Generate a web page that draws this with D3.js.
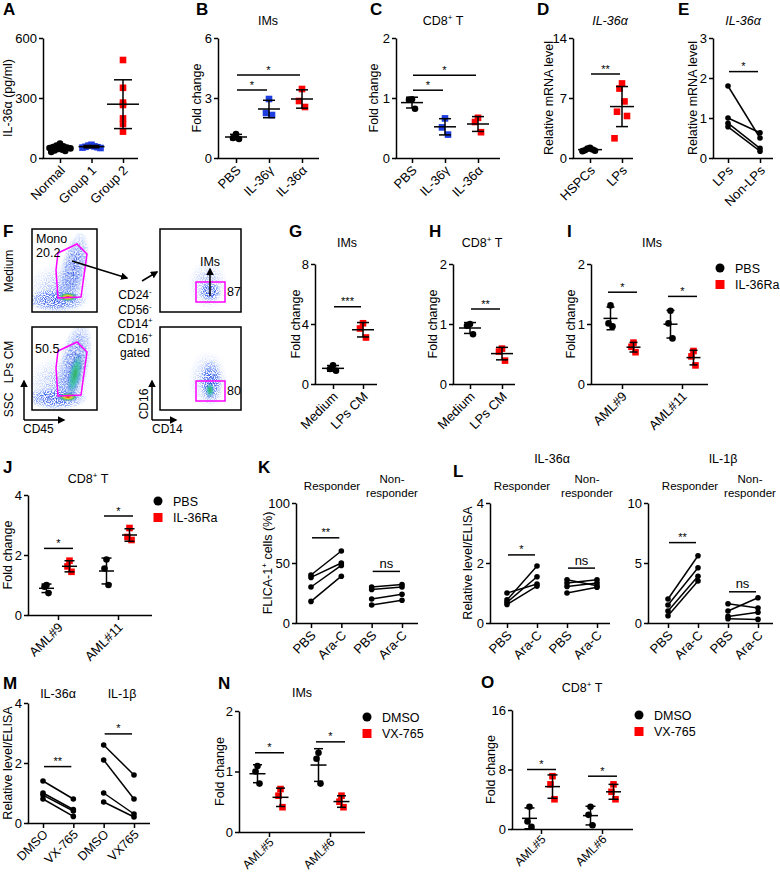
<!DOCTYPE html>
<html>
<head>
<meta charset="utf-8">
<title>IL-36 figure</title>
<script src="https://d3js.org/d3.v7.min.js"></script>
<style>
body { margin: 0; background: #fff; }
</style>
</head>
<body>
<div id="container"></div>
<script>

// ---------------- data ----------------
var catsA = ["Normal", "Group 1", "Group 2"];
var normalA = [72, 62, 58, 55, 52, 50, 48, 45, 42, 38, 35, 30];
var group1A = [66, 62, 58, 56, 54, 52, 50];
var group2A = [490, 351, 277, 265, 198, 170, 132];

var catsB = ["PBS", "IL-36γ", "IL-36α"];
var pbsB = [1.2, 1.0, 0.95];
var gammaB = [2.95, 2.25, 2.15];
var alphaB = [3.45, 2.85, 2.55];

var pbsC = [0.98, 0.97, 0.82];
var gammaC = [0.66, 0.51, 0.39];
var alphaC = [0.67, 0.6, 0.43];

var catsD = ["HSPCs", "LPs"];
var hspcD = [1.2, 1.1, 1.0, 0.9, 0.85, 0.8];
var lpsD = [8.7, 8.1, 6.6, 5.4, 4.9, 2.3];

var catsE = ["LPs", "Non-LPs"];
var pairsE = [[1.8, 0.5], [1.0, 0.63], [0.87, 0.24], [0.78, 0.17]];

var catsG = ["Medium", "LPs CM"];
var mediumG = [1.25, 1.0, 0.88];
var lpscmG = [4.05, 3.7, 3.1];
var mediumH = [1.0, 0.97, 0.83];
var lpscmH = [0.59, 0.54, 0.39];

var catsI = ["AML#9", "AML#11"];
var pbsI = [[1.31, 1.01, 0.96], [1.22, 1.01, 0.76]];
var raI = [[0.69, 0.62, 0.53], [0.55, 0.46, 0.31]];
var pbsJ = [[1.0, 0.94, 0.73], [1.85, 1.55, 1.0]];
var raJ = [[1.81, 1.62, 1.44], [2.9, 2.6, 2.5]];

var catsK = ["PBS", "Ara-C", "PBS", "Ara-C"];
var respK = [[40, 60], [38, 50], [30, 48], [18, 39]];
var nonK = [[30, 32], [28, 30], [20, 24], [15, 19]];
var respL1 = [[1.0, 1.3], [0.77, 1.9], [0.69, 1.54], [0.62, 1.23]];
var nonL1 = [[1.44, 1.24], [1.33, 1.44], [1.22, 1.33], [1.0, 1.19]];
var respL2 = [[2.0, 5.6], [1.5, 4.6], [1.0, 3.9], [0.6, 3.5]];
var nonL2 = [[1.6, 1.25], [1.0, 2.1], [0.55, 0.9], [0.35, 0.3]];

var catsM = ["DMSO", "VX-765", "DMSO", "VX765"];
var il36M = [[1.4, 0.8], [1.0, 0.45], [0.93, 0.4], [0.8, 0.22]];
var il1bM = [[2.6, 1.6], [2.1, 0.8], [1.0, 0.3], [0.7, 0.2]];

var catsN = ["AML#5", "AML#6"];
var dmsoN = [[1.09, 1.0, 0.8], [1.31, 1.21, 0.8]];
var vxN = [[0.71, 0.6, 0.41], [0.6, 0.5, 0.41]];
var dmsoO = [[3.0, 1.0, 0.3], [3.0, 1.9, 0.5]];
var vxO = [[7.1, 6.0, 4.0], [6.0, 5.0, 4.0]];

// flow gate percentages: Mono gate (Medium, LPs CM), IMs gate (Medium, LPs CM)
var monoPct = [20.2, 50.5];
var imsPct = [87, 80];

// ---------------- setup ----------------
var FONT = "'Liberation Sans', Arial, Helvetica, sans-serif";
var width = 780, height = 872;
var RED = "#ff0000", BLUE = "#1e3ee0";

var svg = d3.select("#container").append("svg")
  .attr("width", width).attr("height", height)
  .style("font-family", FONT);
var defs = svg.append("defs");

// text with ^sup^ markup
function label(x, y, str, size, opt) {
  opt = opt || {};
  var t = svg.append("text").attr("x", x).attr("y", y)
    .attr("font-size", size).attr("text-anchor", opt.anchor || "start").attr("fill", "#000");
  if (opt.bold) t.attr("font-weight", "bold");
  if (opt.italic) t.attr("font-style", "italic");
  if (opt.rotate) t.attr("transform", "rotate(" + opt.rotate + "," + x + "," + y + ")");
  var parts = str.split("^");
  parts.forEach(function(s, i) {
    if (!s) return;
    if (i % 2 == 1) {
      t.append("tspan").attr("font-size", size * 0.65).attr("dy", -size * 0.4).text(s);
    } else {
      var sp = t.append("tspan").text(s);
      if (i > 0) sp.attr("dy", size * 0.4);
    }
  });
  return t;
}

function panel(p) {
  var g = svg.append("g");
  var y = d3.scaleLinear().domain([0, p.max]).range([p.yBot, p.yTop]);
  var x = d3.scalePoint().domain(d3.range(p.cats.length)).range(p.xr);
  g.append("g").attr("transform", "translate(" + p.ax + ",0)")
    .call(d3.axisLeft(y).tickValues(p.ticks).tickSize(4).tickSizeOuter(0).tickPadding(2)
      .tickFormat(d3.format("d")));
  var xa = g.append("g").attr("transform", "translate(0," + p.yBot + ")")
    .call(d3.axisBottom(x).tickSize(5).tickSizeOuter(0).tickFormat(function(i) { return p.cats[i]; }));
  xa.select(".domain").attr("d", "M" + (p.ax - 0.75) + ",0.5H" + p.xEnd);
  g.selectAll(".domain,.tick line").attr("stroke", "#000").attr("stroke-width", 1.5);
  g.selectAll("g").attr("font-family", FONT).attr("font-size", 13);
  g.selectAll(".tick text").attr("fill", "#000");
  xa.selectAll(".tick text").attr("x", 0).attr("y", 0).attr("dy", "0.35em")
    .attr("text-anchor", "end").attr("font-size", p.xfs || 13)
    .attr("transform", "translate(2," + (p.xoff || 10) + ") rotate(-45)");
  if (p.ylab) label(p.ylx, (p.yTop + p.yBot) / 2, p.ylab, 12.5, {anchor: "middle", rotate: -90});
  return {g: g, x: x, y: y};
}

function marker(g, cx, cy, mk) {
  if (mk.shape == "circle") {
    g.append("circle").attr("cx", cx).attr("cy", cy).attr("r", 3.3).attr("fill", mk.color);
  } else {
    g.append("rect").attr("x", cx - 3.3).attr("y", cy - 3.3).attr("width", 6.6).attr("height", 6.6).attr("fill", mk.color);
  }
}

var jitter = [0, -1, 1, -2, 2, -3, 3, -0.5, 0.5, -1.5, 1.5, -2.5];

function dotGroup(pp, cx, vals, mk, mw, cw, spread) {
  var m = d3.mean(vals), s = d3.deviation(vals);
  var g = pp.g.append("g");
  vals.forEach(function(v, i) {
    marker(g, cx + jitter[i % jitter.length] * spread, pp.y(v), mk);
  });
  var st = function(l) { return l.attr("stroke", "#000").attr("stroke-width", 1.5); };
  st(g.append("line").attr("x1", cx - mw).attr("x2", cx + mw).attr("y1", pp.y(m)).attr("y2", pp.y(m)));
  st(g.append("line").attr("x1", cx).attr("x2", cx).attr("y1", pp.y(m - s)).attr("y2", pp.y(m + s)));
  [m - s, m + s].forEach(function(v) {
    st(g.append("line").attr("x1", cx - cw).attr("x2", cx + cw).attr("y1", pp.y(v)).attr("y2", pp.y(v)));
  });
}

function pairs(pp, ia, ib, arr) {
  var g = pp.g.append("g");
  arr.forEach(function(d) {
    g.append("line").attr("x1", pp.x(ia)).attr("x2", pp.x(ib))
      .attr("y1", pp.y(d[0])).attr("y2", pp.y(d[1]))
      .attr("stroke", "#000").attr("stroke-width", 1.5);
    g.append("circle").attr("cx", pp.x(ia)).attr("cy", pp.y(d[0])).attr("r", 2.8);
    g.append("circle").attr("cx", pp.x(ib)).attr("cy", pp.y(d[1])).attr("r", 2.8);
  });
}

function sig(pp, x1, x2, v, lab) {
  var yy = pp.y(v);
  pp.g.append("line").attr("x1", x1).attr("x2", x2).attr("y1", yy).attr("y2", yy)
    .attr("stroke", "#000").attr("stroke-width", 1.5);
  pp.g.append("text").attr("x", (x1 + x2) / 2).attr("y", lab == "ns" ? yy - 3.5 : yy - 1.5)
    .attr("text-anchor", "middle").attr("font-size", lab == "ns" ? 13 : 11).text(lab);
}

function sigPair(pp, i, j, v, lab) { sig(pp, pp.x(i) + 1, pp.x(j) - 2, v, lab); }

function legend(x, y, names) {
  var c = svg.append("g");
  c.append("circle").attr("cx", x).attr("cy", y).attr("r", 4.5).attr("fill", "#000");
  c.append("rect").attr("x", x - 4.5).attr("y", y + 12).attr("width", 9).attr("height", 9).attr("fill", RED);
  label(x + 15, y + 4.5, names[0], 12.5);
  label(x + 15, y + 21, names[1], 12.5);
}

function subHeads(cx1, cx2) {
  label(cx1, 490, "Responder", 11.5, {anchor: "middle"});
  label(cx2, 483, "Non-", 11.5, {anchor: "middle"});
  label(cx2, 496.5, "responder", 11.5, {anchor: "middle"});
}

var blackC = {shape: "circle", color: "#000"};
var redS = {shape: "square", color: RED};
var blueS = {shape: "square", color: BLUE};

// ---------------- panel letters ----------------
[["A", 3, 15], ["B", 196, 15], ["C", 370, 15], ["D", 537, 15], ["E", 678, 15],
 ["F", 3, 237], ["G", 289, 237], ["H", 429, 237], ["I", 567, 237],
 ["J", 3, 473], ["K", 258, 473], ["L", 453, 477],
 ["M", 3, 689], ["N", 218, 689], ["O", 481, 688]].forEach(function(d) {
  label(d[1], d[2], d[0], 17, {bold: true});
});

// ---------------- A ----------------
var pA = panel({cats: catsA, ax: 43, yTop: 38, yBot: 158, xr: [60, 123], xEnd: 138, max: 600,
  ticks: [0, 300, 600], ylab: "IL-36α (pg/ml)", ylx: 12});
dotGroup(pA, pA.x(0), normalA, blackC, 13, 8, 3.5);
dotGroup(pA, pA.x(1), group1A, blueS, 13, 8, 3);
dotGroup(pA, pA.x(2), group2A, redS, 16, 9, 0);

// ---------------- B ----------------
var pB = panel({cats: catsB, ax: 218, yTop: 38, yBot: 158, xr: [236, 302], xEnd: 319, max: 6,
  ticks: [0, 3, 6], ylab: "Fold change", ylx: 201});
label(268, 25, "IMs", 12.5, {anchor: "middle"});
dotGroup(pB, pB.x(0), pbsB, blackC, 11, 6, 3);
dotGroup(pB, pB.x(1), gammaB, blueS, 11, 6, 3);
dotGroup(pB, pB.x(2), alphaB, redS, 11, 6, 3);
sigPair(pB, 0, 1, 3.4, "*");
sigPair(pB, 0, 2, 4.15, "*");

// ---------------- C ----------------
var pC = panel({cats: catsB, ax: 396, yTop: 38, yBot: 158, xr: [412, 478], xEnd: 500, max: 2,
  ticks: [0, 1, 2], ylab: "Fold change", ylx: 378});
label(443, 25, "CD8^+^ T", 12.5, {anchor: "middle"});
dotGroup(pC, pC.x(0), pbsC, blackC, 11, 6, 3);
dotGroup(pC, pC.x(1), gammaC, blueS, 11, 6, 3);
dotGroup(pC, pC.x(2), alphaC, redS, 11, 6, 3);
sigPair(pC, 0, 1, 1.13, "*");
sigPair(pC, 0, 2, 1.38, "*");

// ---------------- D ----------------
var pD = panel({cats: catsD, ax: 573, yTop: 38, yBot: 158, xr: [590, 622], xEnd: 633, max: 14,
  ticks: [0, 7, 14], ylab: "Relative mRNA level", ylx: 553});
label(610, 25, "IL-36α", 12.5, {anchor: "middle", italic: true});
dotGroup(pD, pD.x(0), hspcD, blackC, 12, 6, 2.5);
dotGroup(pD, pD.x(1), lpsD, redS, 12, 6, 2.5);
sigPair(pD, 0, 1, 9.8, "**");

// ---------------- E ----------------
var pE = panel({cats: catsE, ax: 713, yTop: 38, yBot: 158, xr: [728, 760], xEnd: 773, max: 3,
  ticks: [0, 1, 2, 3], ylab: "Relative mRNA level", ylx: 697});
label(743, 25, "IL-36α", 12.5, {anchor: "middle", italic: true});
pairs(pE, 0, 1, pairsE);
sigPair(pE, 0, 1, 2.16, "*");

// ---------------- F: flow plots ----------------
function radGrad(id, stops) {
  var gr = defs.append("radialGradient").attr("id", id);
  stops.forEach(function(s) {
    gr.append("stop").attr("offset", s[0]).attr("stop-color", s[1]).attr("stop-opacity", s[2]);
  });
}
radGrad("haze", [[0, "#2448dc", 1], [0.55, "#3a66ee", 0.85], [1, "#6a96ff", 0.15]]);
radGrad("faint", [[0, "#4a74f0", 0.8], [1, "#8aaaff", 0]]);
radGrad("hot", [[0, "#e01818", 1], [0.35, "#f0c828", 0.95], [0.65, "#3cc060", 0.85], [1, "#3070e0", 0]]);
radGrad("green", [[0, "#2cb050", 0.95], [0.5, "#30c0a8", 0.75], [1, "#3060e0", 0]]);

var speck = defs.append("filter").attr("id", "speck").attr("x", 0).attr("y", 0).attr("width", 1).attr("height", 1);
speck.append("feTurbulence").attr("type", "fractalNoise").attr("baseFrequency", 0.9)
  .attr("numOctaves", 1).attr("seed", 7).attr("result", "noise");
speck.append("feColorMatrix").attr("in", "noise").attr("type", "matrix")
  .attr("values", "0 0 0 0 0  0 0 0 0 0  0 0 0 0 0  4 0 0 0 -1.6").attr("result", "mask");
speck.append("feComposite").attr("in", "SourceGraphic").attr("in2", "mask").attr("operator", "in");

defs.append("marker").attr("id", "arrow").attr("viewBox", "0 -5 10 10")
  .attr("refX", 8).attr("refY", 0).attr("markerWidth", 5).attr("markerHeight", 5)
  .attr("orient", "auto").append("path").attr("d", "M0,-5L10,0L0,5Z").attr("fill", "#000");

var flowBoxes = [[32, 229, 65, 83], [32, 327, 65, 83], [160, 229, 81, 83], [160, 327, 81, 83]];
// [box, cx, cy, rx, ry, rotation, fill, speckled]
var blobs = [
  [0, 60, 290, 34, 28, 0, "faint", 1],
  [0, 56, 300, 30, 11, 0, "haze", 1], [0, 74, 268, 13, 36, 12, "haze", 1], [0, 68, 297, 10, 4.5, 0, "hot", 0],
  [1, 60, 385, 34, 30, 0, "faint", 1],
  [1, 56, 398, 30, 11, 0, "haze", 1], [1, 75, 362, 15, 40, 12, "haze", 1],
  [1, 75, 374, 7, 24, 12, "green", 0], [1, 68, 397, 10, 4.5, 0, "hot", 0],
  [2, 208, 285, 20, 26, 0, "faint", 1], [2, 210, 292, 11, 10, 0, "haze", 1],
  [3, 208, 380, 20, 30, 0, "faint", 1], [3, 211, 382, 11, 22, 0, "haze", 1], [3, 210, 390, 5, 8, 0, "green", 0]
];
flowBoxes.forEach(function(b, i) {
  defs.append("clipPath").attr("id", "fclip" + i).append("rect")
    .attr("x", b[0]).attr("y", b[1]).attr("width", b[2]).attr("height", b[3]);
  var g = svg.append("g").attr("clip-path", "url(#fclip" + i + ")");
  blobs.filter(function(d) { return d[0] == i; }).forEach(function(d) {
    var e = g.append("ellipse").attr("cx", d[1]).attr("cy", d[2]).attr("rx", d[3]).attr("ry", d[4])
      .attr("transform", "rotate(" + d[5] + "," + d[1] + "," + d[2] + ")")
      .attr("fill", "url(#" + d[6] + ")");
    if (d[7]) e.attr("filter", "url(#speck)");
  });
  svg.append("rect").attr("x", b[0]).attr("y", b[1]).attr("width", b[2]).attr("height", b[3])
    .attr("fill", "none").attr("stroke", "#000").attr("stroke-width", 1.5);
});

var gateTop = [[58, 253], [77, 244], [87, 254], [81, 297], [58, 298], [56, 270]];
[0, 98].forEach(function(dy) {
  svg.append("polygon").attr("points", gateTop.map(function(p) { return p[0] + "," + (p[1] + dy); }).join(" "))
    .attr("fill", "none").attr("stroke", "#ff00ff").attr("stroke-width", 1.5);
});
[282, 381].forEach(function(yy) {
  svg.append("rect").attr("x", 196).attr("y", yy).attr("width", 29).attr("height", 20)
    .attr("fill", "none").attr("stroke", "#ff00ff").attr("stroke-width", 1.5);
});

label(36, 243, "Mono", 12.5);
label(36, 257, String(monoPct[0]), 12.5);
label(35, 353, String(monoPct[1]), 12.5);
label(227, 296, String(imsPct[0]), 12.5);
label(227, 395, String(imsPct[1]), 12.5);
label(210, 266, "IMs", 12.5, {anchor: "middle"});

function arrow(x1, y1, x2, y2) {
  svg.append("line").attr("x1", x1).attr("y1", y1).attr("x2", x2).attr("y2", y2)
    .attr("stroke", "#000").attr("stroke-width", 1.5).attr("marker-end", "url(#arrow)");
}
arrow(72, 261, 127, 278);
arrow(142, 281, 157, 272);
arrow(210, 296, 210, 269);
arrow(24, 420, 24, 381);
arrow(24, 420, 64, 420);
arrow(152, 420, 152, 381);
arrow(152, 420, 176, 420);

["CD24^-^", "CD56^-^", "CD14^+^", "CD16^+^", "gated"].forEach(function(s, i) {
  label(135, [299, 313.5, 328, 342.5, 357][i], s, 12, {anchor: "middle"});
});
label(13, 271, "Medium", 12, {anchor: "middle", rotate: -90});
label(13, 362, "LPs CM", 12, {anchor: "middle", rotate: -90});
label(13, 405, "SSC", 12, {anchor: "middle", rotate: -90});
label(23, 433, "CD45", 12);
label(148, 404, "CD16", 12, {anchor: "middle", rotate: -90});
label(152, 433, "CD14", 12);

// ---------------- G ----------------
var pG = panel({cats: catsG, ax: 315, yTop: 264, yBot: 384, xr: [333, 363], xEnd: 377, max: 8,
  ticks: [0, 4, 8], ylab: "Fold change", ylx: 300});
label(347, 247, "IMs", 12.5, {anchor: "middle"});
dotGroup(pG, pG.x(0), mediumG, blackC, 11, 6, 3);
dotGroup(pG, pG.x(1), lpscmG, redS, 11, 6, 3);
sigPair(pG, 0, 1, 5.15, "***");

// ---------------- H ----------------
var pH = panel({cats: catsG, ax: 453, yTop: 264, yBot: 384, xr: [470, 502], xEnd: 515, max: 2,
  ticks: [0, 1, 2], ylab: "Fold change", ylx: 437});
label(482, 247, "CD8^+^ T", 12.5, {anchor: "middle"});
dotGroup(pH, pH.x(0), mediumH, blackC, 11, 6, 3);
dotGroup(pH, pH.x(1), lpscmH, redS, 11, 6, 3);
sigPair(pH, 0, 1, 1.25, "**");

// ---------------- grouped panels I, J, N, O ----------------
function grouped(pp, a, b, sigs, mw, cw) {
  a.forEach(function(vals, i) { dotGroup(pp, pp.x(i) - 11.5, vals, blackC, mw, cw, 2); });
  b.forEach(function(vals, i) { dotGroup(pp, pp.x(i) + 11.5, vals, redS, mw, cw, 2); });
  sigs.forEach(function(s) { sig(pp, pp.x(s[0]) - 14, pp.x(s[0]) + 15, s[1], s[2]); });
}

var pI = panel({cats: catsI, ax: 591, yTop: 264, yBot: 384, xr: [622, 682], xEnd: 708, max: 2,
  ticks: [0, 1, 2], ylab: "Fold change", ylx: 575});
label(652, 247, "IMs", 12.5, {anchor: "middle"});
grouped(pI, pbsI, raI, [[0, 1.53, "*"], [1, 1.46, "*"]], 7, 4);
legend(720, 268, ["PBS", "IL-36Ra"]);

var pJ = panel({cats: catsI, ax: 28, yTop: 495, yBot: 615, xr: [58, 118], xEnd: 152, max: 4,
  ticks: [0, 2, 4], ylab: "Fold change", ylx: 12});
label(88, 483, "CD8^+^ T", 12.5, {anchor: "middle"});
grouped(pJ, pbsJ, raJ, [[0, 2.22, "*"], [1, 3.3, "*"]], 7.5, 5);
legend(158, 501, ["PBS", "IL-36Ra"]);

// ---------------- K ----------------
var pK = panel({cats: catsK, ax: 296, yTop: 503, yBot: 623, xr: [311, 402], xEnd: 418, max: 100,
  ticks: [0, 50, 100], ylab: "FLICA-1^+^ cells (%)", ylx: 272});
subHeads(332, 392);
pairs(pK, 0, 1, respK);
pairs(pK, 2, 3, nonK);
sigPair(pK, 0, 1, 71, "**");
sigPair(pK, 2, 3, 43, "ns");

// ---------------- L ----------------
var pL1 = panel({cats: catsK, ax: 490, yTop: 503, yBot: 623, xr: [507, 597], xEnd: 610, max: 4,
  ticks: [0, 2, 4], ylab: "Relative level/ELISA", ylx: 472});
label(552, 463, "IL-36α", 12.5, {anchor: "middle"});
subHeads(522, 587);
pairs(pL1, 0, 1, respL1);
pairs(pL1, 2, 3, nonL1);
sigPair(pL1, 0, 1, 2.27, "*");
sigPair(pL1, 2, 3, 1.83, "ns");

var pL2 = panel({cats: catsK, ax: 648, yTop: 503, yBot: 623, xr: [668, 758], xEnd: 773, max: 10,
  ticks: [0, 5, 10]});
label(723, 463, "IL-1β", 12.5, {anchor: "middle"});
subHeads(690, 750);
pairs(pL2, 0, 1, respL2);
pairs(pL2, 2, 3, nonL2);
sigPair(pL2, 0, 1, 6.7, "**");
sigPair(pL2, 2, 3, 2.6, "ns");

// ---------------- M ----------------
var pM = panel({cats: catsM, ax: 28, yTop: 703, yBot: 823, xr: [43, 134], xEnd: 150, max: 4,
  ticks: [0, 2, 4], ylab: "Relative level/ELISA", ylx: 12, xfs: 12.5, xoff: 9});
label(58, 698, "IL-36α", 12.5, {anchor: "middle"});
label(122, 698, "IL-1β", 12.5, {anchor: "middle"});
pairs(pM, 0, 1, il36M);
pairs(pM, 2, 3, il1bM);
sigPair(pM, 0, 1, 1.88, "**");
sigPair(pM, 2, 3, 2.97, "*");

// ---------------- N ----------------
var pN = panel({cats: catsN, ax: 239, yTop: 711, yBot: 832, xr: [269, 330], xEnd: 365, max: 2,
  ticks: [0, 1, 2], ylab: "Fold change", ylx: 224, xfs: 12, xoff: 8});
label(302, 697, "IMs", 12.5, {anchor: "middle"});
grouped(pN, dmsoN, vxN, [[0, 1.31, "*"], [1, 1.49, "*"]], 8, 4.5);
legend(367, 717, ["DMSO", "VX-765"]);

// ---------------- O ----------------
var pO = panel({cats: catsN, ax: 512, yTop: 710, yBot: 829, xr: [541, 602], xEnd: 633, max: 16,
  ticks: [0, 8, 16], ylab: "Fold change", ylx: 495, xfs: 12, xoff: 8});
label(582, 692, "CD8^+^ T", 12.5, {anchor: "middle"});
grouped(pO, dmsoO, vxO, [[0, 8.0, "*"], [1, 7.1, "*"]], 7.5, 5);
legend(639, 715, ["DMSO", "VX-765"]);

</script>
</body>
</html>
